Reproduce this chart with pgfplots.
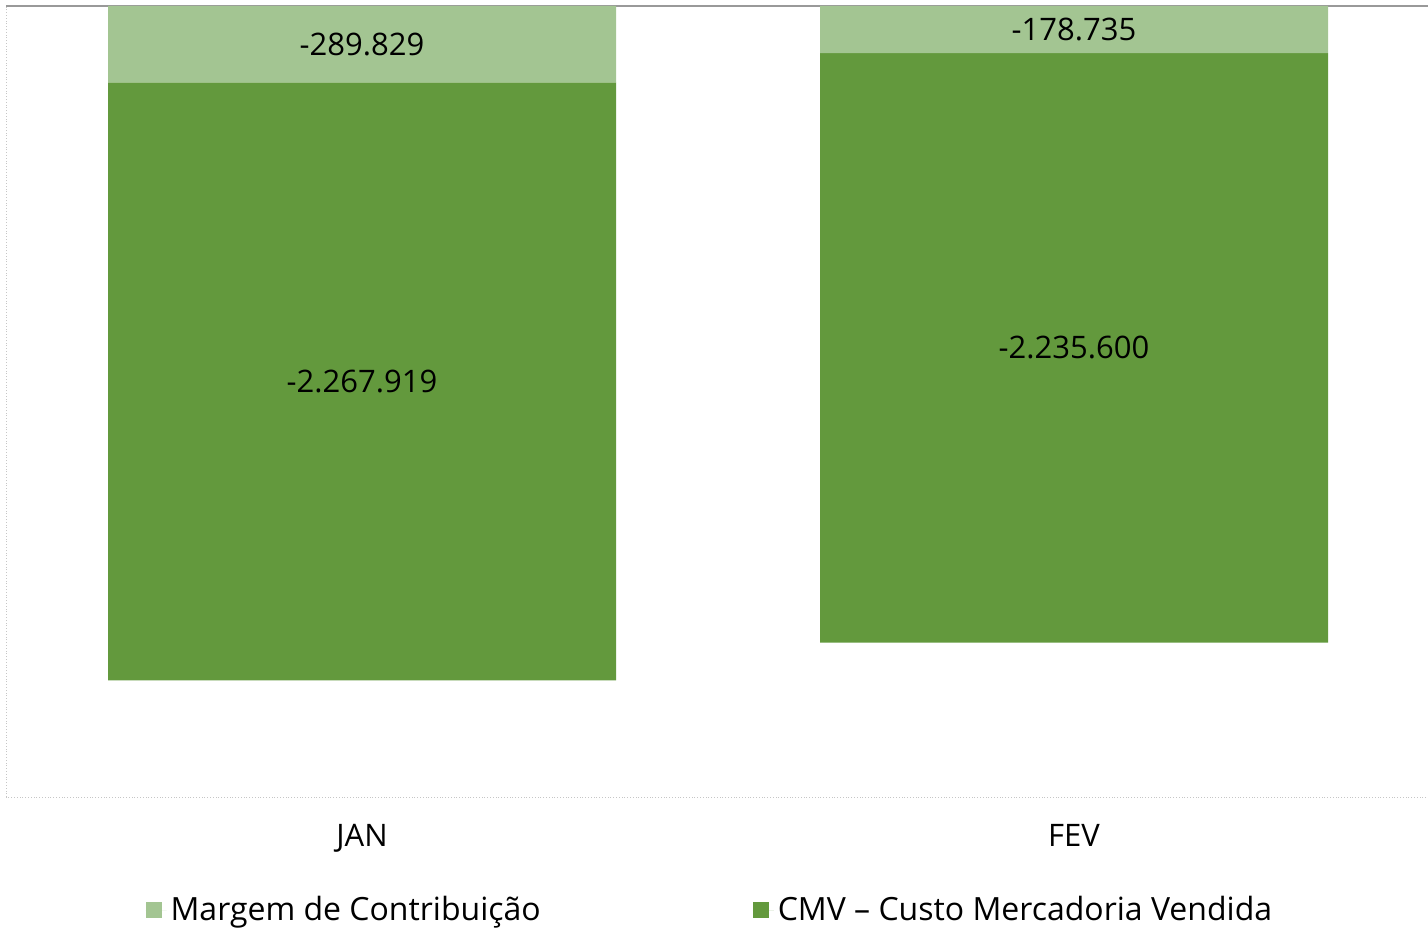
\documentclass[border=0pt]{standalone}
\usepackage{fontspec}
\setmainfont{Open Sans}
\usepackage{pgfplots}
\pgfplotsset{compat=1.18}
\definecolor{margem}{HTML}{A3C592}
\definecolor{cmv}{HTML}{63993D}
\newcommand{\lblfont}{\fontsize{15.5}{18}\selectfont}

\begin{document}
\begin{tikzpicture}
\useasboundingbox (0,0) rectangle (714pt,464.5pt);
% values in thousands
\begin{axis}[
    at={(3pt,66pt)}, anchor=south west,
    scale only axis,
    width=712pt, height=395.5pt,
    ybar stacked, bar width=254pt,
    xmin=-0.5, xmax=1.5,
    ymin=-3000, ymax=0,
    xtick={0,1}, xticklabels={JAN,FEV},
    major tick length=0pt,
    ytick=\empty,
    axis line style={gray!45, densely dotted},
    xticklabel style={font=\lblfont, yshift=-10pt},
    /pgf/number format/assume math mode=true,
    visualization depends on={rawy \as \rawy},
    nodes near coords={\pgfmathprintnumber[fixed,fixed zerofill,precision=3,
        1000 sep={.},dec sep={.}]{\rawy}},
    every node near coord/.append style={font=\lblfont, text=black, anchor=center},
    legend columns=2,
    legend cell align=left,
    legend style={at={(0.495,-0.143)}, anchor=center, draw=none, fill=none,
        font=\fontsize{16}{19}\selectfont,
        /tikz/every even column/.append style={column sep=104pt}},
    legend image code/.code={\path[#1, draw=none] (0pt,-4pt) rectangle (8pt,4pt);
        \path (0pt,0pt) -- (10.5pt,0pt);},
]
% Margem de Contribuicao (top segment, next to zero)
\addplot[fill=margem, draw=none] coordinates {(0,-289.829) (1,-178.735)};
% CMV
\addplot[fill=cmv, draw=none] coordinates {(0,-2267.919) (1,-2235.600)};
\legend{Margem de Contribuição, CMV – Custo Mercadoria Vendida}
\draw[gray!80, line width=0.6pt] (axis cs:-0.5,0) -- (axis cs:1.5,0);
\end{axis}
\end{tikzpicture}
\end{document}
